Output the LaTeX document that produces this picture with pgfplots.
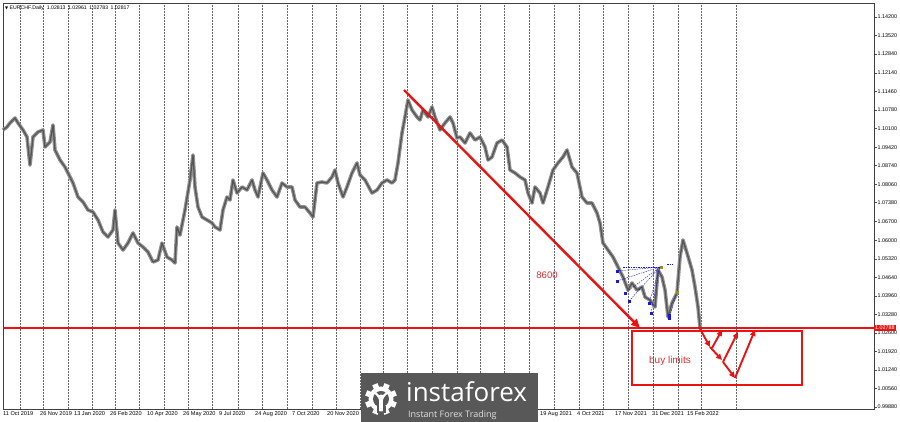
\documentclass[border=0pt]{standalone}
\usepackage{pgfplots}
\pgfplotsset{compat=1.18}
\usepackage{pgfplotstable}
\usepackage{fontspec}
\setmainfont{Liberation Sans}
\newfontfamily\symfont{DejaVu Sans}
\newfontfamily\logofont{Open Sans}
\usetikzlibrary{arrows.meta}

\definecolor{mtred}{RGB}{232,20,20}
\definecolor{txtred}{RGB}{222,45,45}
\definecolor{candle}{RGB}{145,145,145}
\definecolor{candledark}{RGB}{85,85,85}
\definecolor{mtblue}{RGB}{25,25,210}
\definecolor{mtolive}{RGB}{150,140,40}
\definecolor{logogray}{RGB}{88,88,88}

% EURCHF daily closes, x = chart position (bars)
\pgfplotstableread{
x p
3 1.10051
7 1.10161
10 1.10308
15 1.10491
18 1.10308
23 1.10051
27 1.09794
30 1.08765
33 1.09794
38 1.09977
43 1.10051
45 1.09426
50 1.09610
53 1.10234
55 1.09316
60 1.08949
65 1.08692
70 1.08325
73 1.08105
78 1.07590
83 1.07407
88 1.07113
93 1.07040
98 1.06746
103 1.06305
108 1.06122
113 1.06379
115 1.07113
118 1.05901
123 1.05644
128 1.05901
133 1.06269
138 1.05901
143 1.05754
148 1.05571
153 1.05204
158 1.05277
162 1.05901
167 1.05387
172 1.05277
175 1.05167
177 1.06489
180 1.06195
185 1.07113
190 1.08215
193 1.09133
195 1.07958
198 1.07223
202 1.06856
207 1.06746
212 1.06636
215 1.06489
220 1.06379
223 1.07113
227 1.07590
230 1.07480
233 1.08215
237 1.07737
242 1.07958
247 1.07847
252 1.08215
255 1.07847
258 1.07590
263 1.08472
267 1.08215
272 1.07847
277 1.07590
282 1.08105
287 1.07958
292 1.07958
295 1.07480
300 1.07223
305 1.07223
310 1.07003
313 1.06856
317 1.08105
322 1.08141
327 1.08105
332 1.08325
335 1.08582
338 1.08105
343 1.07590
347 1.07958
352 1.08472
357 1.08839
360 1.08398
365 1.08215
372 1.07737
377 1.07847
382 1.08105
387 1.08215
392 1.08105
395 1.08215
398 1.08839
402 1.09941
405 1.10528
408 1.11152
412 1.10785
417 1.10528
420 1.10418
423 1.10785
428 1.10528
432 1.10895
435 1.10528
440 1.10051
445 1.10308
450 1.10528
453 1.10308
457 1.09757
460 1.09794
465 1.09573
470 1.09941
475 1.09683
480 1.09794
485 1.09426
488 1.08949
492 1.09059
497 1.09573
502 1.09683
507 1.09426
510 1.08582
515 1.08472
520 1.08325
525 1.08215
528 1.07737
532 1.07370
535 1.07958
540 1.07737
543 1.07370
548 1.07958
553 1.08582
558 1.08839
563 1.09059
567 1.09316
572 1.08692
577 1.08472
582 1.07590
587 1.07370
592 1.07370
597 1.07003
600 1.06636
603 1.05901
608 1.05644
613 1.05387
618 1.05020
623 1.04653
628 1.04175
632 1.04432
637 1.04175
642 1.04286
645 1.03918
650 1.03808
655 1.03551
658 1.04910
662 1.04653
665 1.04175
668 1.03184
672 1.03698
677 1.04065
680 1.05387
683 1.06011
687 1.05534
692 1.04910
695 1.04286
698 1.03551
700 1.02817
}\eurchf

% buy markers
\pgfplotstableread{
x p
617 1.04873
617 1.04506
625 1.04065
629 1.03772
649 1.03698
651 1.03331
669 1.03257
669 1.03147
}\buys

\begin{document}
\begin{tikzpicture}
\path[use as bounding box] (-3pt,-13pt) rectangle (897pt,409pt);
\begin{axis}[
  at={(0,0)}, anchor=south west,
  scale only axis, width=871pt, height=406pt,
  xmin=3, xmax=874, ymin=0.99806, ymax=1.14714,
  clip=false,
  axis line style={black!75, line width=0.6pt},
  xtick={20,43,68,92,115,139,164,188,212,238,262,287,312,336,360,383,407,432,457,480,504,529,554,579,603,628,653,678,701,736},
  xticklabels={},
  xmajorgrids,
  major grid style={black!60, line width=0.5pt, dash pattern=on 1.5pt off 1.5pt},
  x tick style={draw=none},
  extra x ticks={3,40,74,110,147,183,219,255,292,327,540,577,615,652,687},
  extra x tick labels={11 Oct 2019,26 Nov 2019,13 Jan 2020,26 Feb 2020,10 Apr 2020,26 May 2020,9 Jul 2020,24 Aug 2020,7 Oct 2020,20 Nov 2020,19 Aug 2021,4 Oct 2021,17 Nov 2021,31 Dec 2021,15 Feb 2022},
  extra x tick style={grid=none, major tick length=0pt,
    tick label style={anchor=north west, inner sep=0pt, yshift=-2.5pt, font=\fontsize{5.6}{6}\selectfont}},
  ytick pos=right, yticklabel pos=right,
  ytick={0.9988,1.0056,1.0124,1.0192,1.026,1.0328,1.0396,1.0464,1.0532,1.06,1.067,1.0738,1.0806,1.0874,1.0942,1.101,1.1078,1.1146,1.1214,1.1284,1.1352,1.142},
  yticklabels={0.99880,1.00560,1.01240,1.01920,1.02600,1.03280,1.03960,1.04640,1.05320,1.06000,1.06700,1.07380,1.08060,1.08740,1.09420,1.10100,1.10780,1.11460,1.12140,1.12840,1.13520,1.14200},
  y tick style={black!70, line width=0.5pt},
  tick align=outside, major tick length=2.5pt,
  yticklabel style={font=\fontsize{5.4}{6}\selectfont, inner sep=1pt, anchor=west},
]
% price
\addplot[candle, line width=3.6pt, line join=round] table[x=x, y=p] {\eurchf};
\addplot[candledark, line width=1.3pt, line join=round] table[x=x, y=p] {\eurchf};

% current price line
\addplot[mtred, line width=1.6pt] coordinates {(3,1.02788) (874,1.02788)};
\node[anchor=west, fill=mtred, text=white, inner xsep=1pt, inner ysep=1pt,
  font=\fontsize{5.4}{6}\selectfont] at (axis cs:874,1.02788) {1.02788};

% trend arrow
\addplot[mtred, line width=2.4pt, -{Triangle[length=9pt,width=8pt]}]
  coordinates {(404,1.11519) (640,1.0278)};
\node[txtred, font=\fontsize{9.5}{10}\selectfont] at (axis cs:547,1.04726) {8600};

% buy limits box
\addplot[mtred, line width=2.2pt, line join=miter]
  coordinates {(700,1.0267) (802,1.0267) (802,1.00687) (632,1.00687) (632,1.0267) (700,1.0267)};
\node[txtred, font=\fontsize{10}{11}\selectfont] at (axis cs:670,1.01568) {buy limits};

% zigzag
\addplot[mtred, line width=1.9pt, -{Triangle[length=6pt,width=5.5pt]}] coordinates {(699,1.02817) (710,1.02082)};
\addplot[mtred, line width=1.9pt, -{Triangle[length=6pt,width=5.5pt]}] coordinates {(712,1.02046) (722,1.02707)};
\addplot[mtred, line width=1.9pt, -{Triangle[length=6pt,width=5.5pt]}] coordinates {(710,1.02082) (722,1.01605)};
\addplot[mtred, line width=1.9pt, -{Triangle[length=6pt,width=5.5pt]}] coordinates {(723,1.01532) (738,1.02633)};
\addplot[mtred, line width=1.9pt, -{Triangle[length=6pt,width=5.5pt]}] coordinates {(723,1.01532) (735,1.00944)};
\addplot[mtred, line width=1.9pt, -{Triangle[length=6pt,width=5.5pt]}] coordinates {(735,1.00944) (755,1.02707)};

% trade history
\addplot[mtblue, line width=0.4pt, dash pattern=on 1.5pt off 1pt] coordinates {(617,1.04873) (660,1.0502)};
\addplot[mtblue, line width=0.4pt, dash pattern=on 1.5pt off 1pt] coordinates {(617,1.04506) (660,1.0502)};
\addplot[mtblue, line width=0.4pt, dash pattern=on 1.5pt off 1pt] coordinates {(625,1.04065) (660,1.0502)};
\addplot[mtblue, line width=0.4pt, dash pattern=on 1.5pt off 1pt] coordinates {(629,1.03772) (660,1.0502)};
\addplot[mtblue, line width=0.4pt, dash pattern=on 1.5pt off 1pt] coordinates {(649,1.03698) (660,1.0502)};
\addplot[mtblue, line width=0.4pt, dash pattern=on 1.5pt off 1pt] coordinates {(651,1.03331) (660,1.0502)};
\addplot[mtblue, line width=0.4pt, dash pattern=on 1.5pt off 1pt] coordinates {(623,1.0502) (660,1.0502)};
\addplot[mtblue, line width=0.4pt, dash pattern=on 1.5pt off 1pt] coordinates {(667,1.0513) (673,1.0513)};
\addplot[mtblue, line width=0.4pt, dash pattern=on 1.5pt off 1pt] coordinates {(669,1.03147) (677,1.04102)};
\addplot[only marks, mark=square*, mark size=1.2pt, mtblue] table[x=x, y=p] {\buys};
\addplot[only marks, mark=square*, mark size=1.1pt, mtolive] coordinates {(661,1.0502) (677,1.04102)};

% header
\node[anchor=west, inner sep=0pt, font=\fontsize{5.2}{6}\selectfont] at (axis cs:5,1.14530)
  {{\symfont\fontsize{4}{5}\selectfont ▼}\ EURCHF.Daily\hspace{3pt}1.02813\hspace{2.5pt}1.02961\hspace{2.5pt}1.02783\hspace{2.5pt}1.02817};
\end{axis}

% logo
\fill[logogray] (358pt,-13pt) rectangle (535pt,36pt);
\begin{scope}[shift={(378pt,10pt)}]
  \foreach \a in {0,45,...,315}
    \fill[white, rotate=\a+22.5] (-2.8pt,10pt) rectangle (2.8pt,16pt);
  \fill[white] (0,0) circle (12.5pt);
  \fill[logogray] (0,0) circle (8pt);
  \fill[white] (0,1.5pt) circle (3pt);
  \draw[white, line width=2.2pt] (-5.5pt,6pt) -- (0,0) -- (5.5pt,6pt);
  \fill[white] (-1.6pt,-12.5pt) rectangle (1.6pt,0pt);
  \fill[logogray] (-4.5pt,-14pt) rectangle (-1.6pt,-7pt);
  \fill[logogray] (1.6pt,-14pt) rectangle (4.5pt,-7pt);
\end{scope}
\node[anchor=base west, inner sep=0pt, text=white, font=\logofont\fontsize{26}{26}\selectfont] at (403pt,7pt) {instaforex};
\node[anchor=base west, inner sep=0pt, text=black!12, font=\logofont\fontsize{9}{9}\selectfont] at (405pt,-9pt) {Instant Forex Trading};
\end{tikzpicture}
\end{document}
